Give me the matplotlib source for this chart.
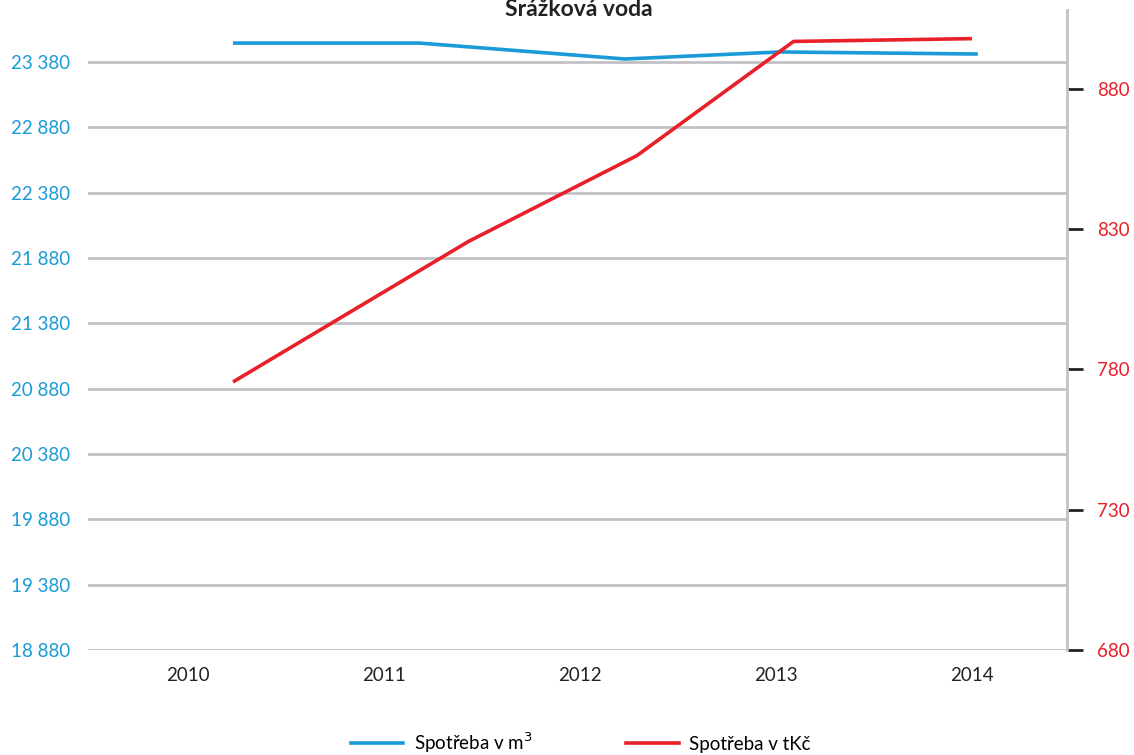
import matplotlib.pyplot as plt
from matplotlib.ticker import FuncFormatter
from matplotlib.lines import Line2D

plt.rcParams['font.family'] = ['Lato', 'DejaVu Sans']

years = [2010, 2011, 2012, 2013, 2014]

# point positions (fractional year on the x axis)
m3_x = [2010.23, 2011.18, 2012.23, 2013.02, 2014.03]
m3_val = [23525, 23525, 23403, 23457, 23441]

tkc_x = [2010.23, 2011.43, 2012.29, 2013.09, 2014.0]
tkc_val = [775.5, 825.5, 856.1, 896.8, 897.8]

left_ticks = [18880, 19380, 19880, 20380, 20880, 21380, 21880, 22380, 22880, 23380]
right_ticks = [680, 730, 780, 830, 880]

blue = '#1a9ad6'
red = '#e8202a'
grid = '#c2c2c6'

fig = plt.figure(figsize=(11.34, 7.55), dpi=100)
ax = fig.add_axes([88/1134, 1 - 650/755, (1067 - 88)/1134, 640/755])
ax2 = ax.twinx()

ax.plot(m3_x, m3_val, color=blue, lw=2.6, solid_capstyle='butt', zorder=3)
ax2.plot(tkc_x, tkc_val, color=red, lw=2.6, solid_capstyle='butt', zorder=3)

ax.set_xlim(2009.49, 2014.485)
ax.set_ylim(18880, 23778)
ax2.set_ylim(680, 908)

ax.set_yticks(left_ticks)
ax.yaxis.set_major_formatter(FuncFormatter(lambda v, p: f'{int(v):,}'.replace(',', ' ')))
ax.yaxis.grid(True, color=grid, lw=2)
ax.set_axisbelow(True)
ax.tick_params(axis='y', length=0, pad=13, labelcolor=blue, labelsize=13.5)

ax.set_xticks(years)
ax.tick_params(axis='x', length=0, pad=12, labelcolor='#222222', labelsize=13.5)

for s in ['top', 'left', 'bottom', 'right']:
    ax.spines[s].set_visible(False)
for s in ['top', 'left', 'bottom']:
    ax2.spines[s].set_visible(False)
ax2.spines['right'].set_color(grid)
ax2.spines['right'].set_linewidth(2)

ax2.set_yticks(right_ticks)
ax2.tick_params(axis='y', length=11.5, width=2, color='#222222', pad=10,
                labelcolor=red, labelsize=13.5)

fig.text(0.51, 0.987, 'Srážková voda', ha='center', va='center',
         fontsize=16.5, fontweight='bold', color='#222222')

handles = [Line2D([], [], color=blue, lw=2.6), Line2D([], [], color=red, lw=2.6)]
fig.legend(handles, ['Spotřeba v m$^3$', 'Spotřeba v tKč'], loc='lower center',
           bbox_to_anchor=(0.512, -0.022), ncol=2, frameon=False, fontsize=13.5,
           handlelength=2.8, columnspacing=5, handletextpad=0.55)

fig.savefig('out.png', dpi=100)
